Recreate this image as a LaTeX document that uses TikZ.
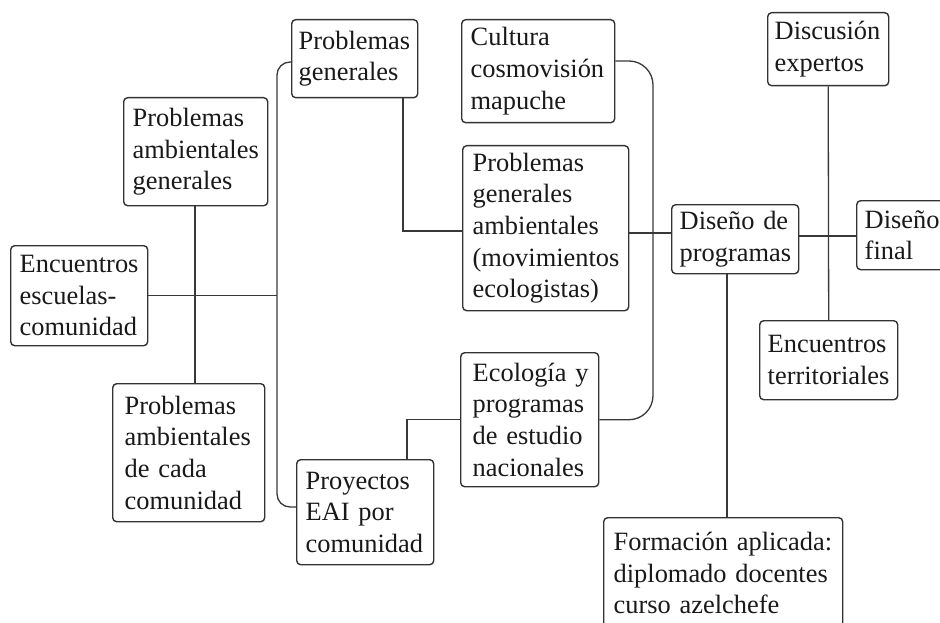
\documentclass[tikz,border=0pt]{standalone}
\usepackage{fontspec}
\setmainfont{Liberation Serif}
\begin{document}
\begin{tikzpicture}[x=1pt,y=-1pt,
  box/.style={draw=black!80, fill=white, line width=1.4pt, rounded corners=4pt, anchor=north west,
    align=left, inner xsep=8.5pt, inner ysep=0pt, font=\fontsize{26.4}{31.7}\selectfont, text=black!90},
  conn/.style={draw=black!78, line width=1.3pt}]
\useasboundingbox (0,0) rectangle (940,623);
% named bend coordinates
\coordinate (xb) at (277,300);
\coordinate (c403) at (403,231);
\coordinate (c233) at (0,233);
\coordinate (cA) at (653,61);
\coordinate (c407) at (407,0);
\coordinate (c727) at (727,0);
\coordinate (c236) at (0,236);
\coordinate (c195) at (195,0);
% nodes
\node[box, minimum width=126pt, minimum height=78pt, inner xsep=7pt, text width=112pt] (PG) at (291,19) {Problemas\\generales};
\node[box, minimum width=144pt, minimum height=108pt, inner xsep=9pt, text width=126pt] (PAG) at (123,97) {Problemas\\ambientales\\generales};
\node[box, minimum width=137pt, minimum height=100pt, inner xsep=9pt, text width=119pt] (EEC) at (10,245) {Encuentros\\escuelas-\\comunidad};
\node[box, minimum width=152pt, minimum height=138pt, inner xsep=12pt, text width=128pt] (PACC) at (112,383) {Problemas\\ambientales\\de~cada\\comunidad};
\node[box, minimum width=137pt, minimum height=105pt, inner xsep=9pt, text width=119pt] (PEAI) at (296,459) {Proyectos\\EAI~por\\comunidad};
\node[box, minimum width=153pt, minimum height=103pt, inner xsep=9pt, text width=135pt] (CCM) at (461,19) {Cultura\\cosmovisión\\mapuche};
\node[box, minimum width=166pt, minimum height=165pt, inner xsep=10pt, text width=146pt] (PGA) at (462,145) {Problemas\\generales\\ambientales\\(movimientos\\ecologistas)};
\node[box, minimum width=127pt, minimum height=69pt, inner xsep=8pt, text width=111pt] (DP) at (671,204) {Diseño~de\\programas};
\node[box, minimum width=121pt, minimum height=73pt, inner xsep=7pt, text width=107pt] (DE) at (767,12) {Discusión\\expertos};
\node[box, minimum width=100pt, minimum height=69pt, inner xsep=8pt, text width=84pt] (DF) at (856,200) {Diseño\\final};
\node[box, minimum width=138pt, minimum height=79pt, inner xsep=8pt, text width=122pt] (ET) at (759,320) {Encuentros\\territoriales};
\node[box, minimum width=138pt, minimum height=134pt, inner xsep=12pt, text width=114pt] (EPEN) at (460,352) {Ecología~y\\programas\\de~estudio\\nacionales};
\node[box, minimum width=239pt, minimum height=111pt, inner xsep=10pt, text width=219pt] (FA) at (603,517) {Formación~aplicada:\\diplomado~docentes\\curso~azelchefe};
% connectors
\draw[conn, rounded corners=13pt] (PG.west |- 0,62) -| (xb) |- (PEAI.west |- 0,507);
\draw[conn] (EEC.east) -- (EEC.east -| xb);
\draw[conn] (PAG.south -| c195) -- (PACC.north -| c195);
\draw[conn] (PG.south -| c403) |- (PGA.west |- c403);
\draw[conn] (PGA.east |- c233) -- (DP.west |- c233);
\draw[conn, rounded corners=24pt] (CCM.east |- cA) -- (cA) -- (cA |- EPEN.east) -- (EPEN.east);
\draw[conn] (EPEN.west) -| (c407 |- PEAI.north);
\draw[conn] (DP.south -| c727) -- (FA.north -| c727);
\draw[conn] (DP.east |- c236) -- (DF.west |- c236);
\draw[conn] (DE.south) -- (ET.north);
\end{tikzpicture}
\end{document}
